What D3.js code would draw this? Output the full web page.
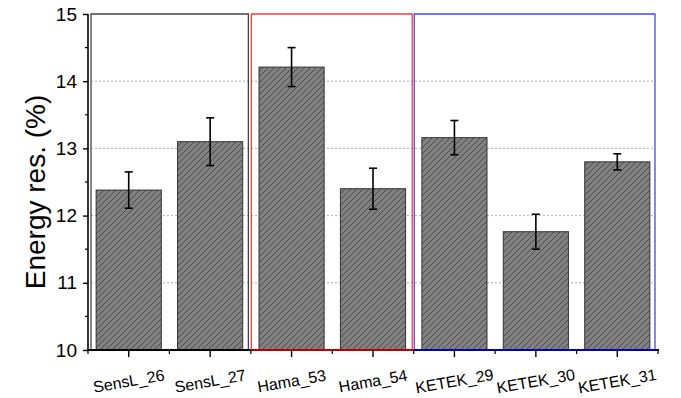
<!DOCTYPE html>
<html><head><meta charset="utf-8">
<script src="https://cdn.jsdelivr.net/npm/d3@7"></script>
<style>body{margin:0;background:#fff}</style>
</head><body>
<svg id="c" width="681" height="398"></svg>
<script>
const categories = ["SensL_26","SensL_27","Hama_53","Hama_54","KETEK_29","KETEK_30","KETEK_31"];
const values = [12.38, 13.10, 14.21, 12.40, 13.16, 11.76, 12.80];
const errors = [0.27, 0.355, 0.29, 0.305, 0.255, 0.26, 0.12];
const yTicks = [10, 11, 12, 13, 14, 15];
const yMinorTicks = [10.5, 11.5, 12.5, 13.5, 14.5];
const yGrid = [11, 12, 13, 14];
const groups = [
  {start: 0, end: 2, box: "#444", base: "#000"},
  {start: 2, end: 4, box: "#ff3b3b", base: "#c00000"},
  {start: 4, end: 7, box: "#4646ff", base: "#0000b4"}
];

const svg = d3.select("#c");
const x0 = 88, x1 = 658, yTop = 14, yBot = 350;
const x = d3.scaleBand().domain(categories).range([x0, x1]).paddingInner(0.2).paddingOuter(0.1);
const y = d3.scaleLinear().domain([10, 15]).range([yBot, yTop]);
const step = x.step();
const boundary = i => x0 + step * i;

// hatch pattern
const defs = svg.append("defs");
const pat = defs.append("pattern").attr("id","hatch").attr("patternUnits","userSpaceOnUse")
  .attr("width",6).attr("height",6);
pat.append("rect").attr("width",6).attr("height",6).attr("fill","#808080");
pat.append("path").attr("d","M0,6 L6,0 M-1,1 L1,-1 M5,7 L7,5")
  .attr("stroke","#404040").attr("stroke-width",0.8);

// gridlines
svg.append("g").selectAll("line").data(yGrid).join("line")
  .attr("x1", x0 + 3).attr("x2", 655)
  .attr("y1", d => y(d)).attr("y2", d => y(d))
  .attr("stroke", "#b0b0b0").attr("stroke-width", 1).attr("stroke-dasharray", "2,2");

// bars
svg.append("g").selectAll("rect").data(categories).join("rect")
  .attr("x", d => x(d)).attr("width", x.bandwidth())
  .attr("y", (d,i) => y(values[i])).attr("height", (d,i) => y(10) - y(values[i]))
  .attr("fill", "url(#hatch)").attr("stroke", "#333").attr("stroke-width", 1);

// error bars
const eb = svg.append("g").attr("stroke", "#000").attr("stroke-width", 1.6);
categories.forEach((c, i) => {
  const cx = x(c) + x.bandwidth() / 2;
  const hi = y(values[i] + errors[i]), lo = y(values[i] - errors[i]);
  eb.append("line").attr("x1", cx).attr("x2", cx).attr("y1", hi).attr("y2", lo);
  eb.append("line").attr("x1", cx - 4).attr("x2", cx + 4).attr("y1", hi).attr("y2", hi);
  eb.append("line").attr("x1", cx - 4).attr("x2", cx + 4).attr("y1", lo).attr("y2", lo);
});

// group boxes
groups.forEach((g, k) => {
  const left = k === 0 ? x0 + 3 : boundary(g.start) + 0.5;
  const right = k === groups.length - 1 ? 655 : boundary(g.end) - (k === 0 ? 2.5 : 1.5);
  svg.append("path")
    .attr("d", `M${left},${yBot} L${left},${yTop} L${right},${yTop} L${right},${yBot}`)
    .attr("fill", "none").attr("stroke", g.box).attr("stroke-width", 1.3);
  const bl = k === 0 ? x0 : boundary(g.start);
  const br = k === groups.length - 1 ? 656 : boundary(g.end);
  svg.append("line").attr("x1", bl).attr("x2", br).attr("y1", yBot).attr("y2", yBot)
    .attr("stroke", g.base).attr("stroke-width", 2);
});
svg.append("line").attr("x1", 656).attr("x2", x1 + 1).attr("y1", yBot).attr("y2", yBot)
  .attr("stroke", "#000").attr("stroke-width", 2);

// y axis
const yAxis = svg.append("g").attr("transform", `translate(${x0},0)`)
  .call(d3.axisLeft(y).tickValues(yTicks).tickSize(5).tickPadding(6).tickFormat(d3.format("d")));
yAxis.select(".domain").attr("stroke-width", 1.6).attr("d", `M0,${yTop}V${yBot}`);
yAxis.selectAll(".tick line").attr("stroke-width", 1.4);
yAxis.selectAll("text").attr("font-family", "Liberation Sans, Arial, sans-serif")
  .attr("font-size", 19).attr("fill", "#000");
svg.append("g").selectAll("line").data(yMinorTicks).join("line")
  .attr("x1", x0 - 3).attr("x2", x0).attr("y1", d => y(d)).attr("y2", d => y(d))
  .attr("stroke", "#000").attr("stroke-width", 1.2);

// x ticks
svg.append("g").selectAll("line").data(categories).join("line")
  .attr("x1", d => x(d) + x.bandwidth()/2).attr("x2", d => x(d) + x.bandwidth()/2)
  .attr("y1", yBot).attr("y2", yBot + 7).attr("stroke", "#000").attr("stroke-width", 1.4);
svg.append("g").selectAll("line").data(d3.range(categories.length + 1)).join("line")
  .attr("x1", d => boundary(d)).attr("x2", d => boundary(d))
  .attr("y1", yBot).attr("y2", yBot + 4).attr("stroke", "#000").attr("stroke-width", 1.2);

// x labels
svg.append("g").selectAll("text").data(categories).join("text")
  .attr("transform", d => `translate(${x(d) + x.bandwidth()/2},${381}) rotate(-10)`)
  .attr("text-anchor", "middle").attr("dy", "0.35em")
  .attr("font-family", "Liberation Sans, Arial, sans-serif").attr("font-size", 16)
  .text(d => d);

// y title
svg.append("text").attr("transform", "translate(35,192) rotate(-90)")
  .attr("text-anchor", "middle").attr("dy", "0.35em")
  .attr("font-family", "Liberation Sans, Arial, sans-serif").attr("font-size", 28)
  .text("Energy res. (%)");
</script>
</body></html>
